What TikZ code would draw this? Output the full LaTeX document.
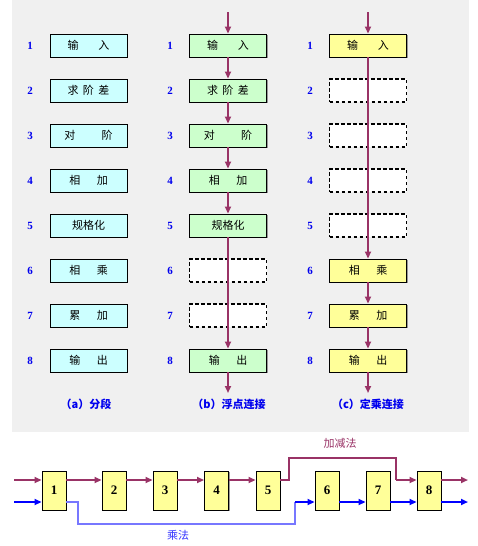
\documentclass[tikz,border=0pt]{standalone}
\usepackage{fontspec}
\setmainfont{Liberation Serif}
\newfontfamily\cjk{Noto Sans CJK SC}
\usetikzlibrary{arrows.meta,shadows}
\definecolor{mag}{HTML}{993366}
\definecolor{bggray}{HTML}{F0F0F0}
\definecolor{cyanfill}{HTML}{CCFFFF}
\definecolor{greenfill}{HTML}{CCFFCC}
\definecolor{yellowfill}{HTML}{FFFF99}
\definecolor{numblue}{HTML}{0000EE}
\definecolor{lightblue}{HTML}{7777FF}
\tikzset{
  stagebox/.style={draw=black, line width=0.9pt, minimum width=77pt, minimum height=23pt, inner sep=0pt,
    font=\cjk\fontsize{11}{11}\selectfont,
    drop shadow={shadow xshift=1.2pt, shadow yshift=-1.2pt, fill=black!40, opacity=1}},
  abox/.style={stagebox, fill=cyanfill},
  bbox/.style={stagebox, fill=greenfill},
  cbox/.style={stagebox, fill=yellowfill},
  dbox/.style={draw=black, line width=1.4pt, dash pattern=on 3.5pt off 2.5pt, fill=white,
    minimum width=77pt, minimum height=23pt, inner sep=0pt},
  num/.style={text=numblue, font=\bfseries\fontsize{11}{11}\selectfont},
  captext/.style={text=numblue, font=\cjk\bfseries\fontsize{11}{11}\selectfont},
  flow/.style={draw=mag, line width=2pt, -{Triangle[length=7pt,width=6pt]}},
  mthin/.style={draw=mag, line width=1.1pt},
  bthin/.style={draw=lightblue, line width=1.1pt},
  bflow/.style={draw=blue, line width=2pt, -{Triangle[length=7pt,width=6pt]}},
  pbox/.style={draw=black, line width=0.9pt, fill=yellowfill, minimum width=24pt, minimum height=39pt, inner sep=0pt,
    font=\bfseries\fontsize{13}{13}\selectfont,
    drop shadow={shadow xshift=1.2pt, shadow yshift=-1.2pt, fill=black!40, opacity=1}},
}
\begin{document}
\begin{tikzpicture}[x=1pt,y=-1pt]
\useasboundingbox (0,0) rectangle (478,546);
\fill[bggray] (12,0) rectangle (469,432);

% column (a)
\foreach \i/\t in {1/{输\hspace{1.8em}入},2/{求\hspace{0.4em}阶\hspace{0.4em}差},3/{对\hspace{2.4em}阶},4/{相\hspace{1.5em}加},5/{规格化},6/{相\hspace{1.5em}乘},7/{累\hspace{1.5em}加},8/{输\hspace{1.5em}出}}{
  \node[abox] (a\i) at (88.5,{45.5+45*(\i-1)}) {\t};
  \node[num] (na\i) at (30,{45.5+45*(\i-1)}) {\i};
}
% column (b)
\foreach \i/\t in {1/{输\hspace{1.8em}入},2/{求\hspace{0.4em}阶\hspace{0.4em}差},3/{对\hspace{2.4em}阶},4/{相\hspace{1.5em}加},5/{规格化},8/{输\hspace{1.5em}出}}{
  \node[bbox] (b\i) at (228,{45.5+45*(\i-1)}) {\t};
}
\foreach \i in {6,7}{
  \node[dbox] (b\i) at (228,{45.5+45*(\i-1)}) {};
}
\foreach \i in {1,...,8}{
  \node[num] (nb\i) at (170,{45.5+45*(\i-1)}) {\i};
  \node[num] (nc\i) at (310,{45.5+45*(\i-1)}) {\i};
}
% column (c)
\foreach \i/\t in {1/{输\hspace{1.8em}入},6/{相\hspace{1.5em}乘},7/{累\hspace{1.5em}加},8/{输\hspace{1.5em}出}}{
  \node[cbox] (c\i) at (368,{45.5+45*(\i-1)}) {\t};
}
\foreach \i in {2,3,4,5}{
  \node[dbox] (c\i) at (368,{45.5+45*(\i-1)}) {};
}

% arrows (b)
\coordinate (bt) at (228,12);
\coordinate (bb) at (228,393);
\draw[flow] (bt) -- (b1.north);
\draw[flow] (b1.south) -- (b2.north);
\draw[flow] (b2.south) -- (b3.north);
\draw[flow] (b3.south) -- (b4.north);
\draw[flow] (b4.south) -- (b5.north);
\draw[flow] (b5.south) -- (b8.north);
\draw[flow] (b8.south) -- (bb);
% arrows (c)
\coordinate (ct) at (368,12);
\coordinate (cb) at (368,393);
\draw[flow] (ct) -- (c1.north);
\draw[flow] (c1.south) -- (c6.north);
\draw[flow] (c6.south) -- (c7.north);
\draw[flow] (c7.south) -- (c8.north);
\draw[flow] (c8.south) -- (cb);

% captions
\node[captext] (capa) at (86,404) {（a）分段};
\node[captext] (capb) at (229,404) {（b）浮点连接};
\node[captext] (capc) at (368,404) {（c）定乘连接};

% bottom pipeline
\foreach \i/\x in {1/54,2/114,3/165,4/216.5,5/268,6/327,7/378,8/429}{
  \node[pbox] (p\i) at (\x,490.5) {\i};
}
\coordinate (mi) at (14,480);
\coordinate (mo) at (468,480);
\coordinate (bi) at (14,502);
\coordinate (bo) at (468,502);
\draw[flow] (mi) -- (p1.west |- mi);
\draw[flow] (p1.east |- mi) -- (p2.west |- mi);
\draw[flow] (p2.east |- mi) -- (p3.west |- mi);
\draw[flow] (p3.east |- mi) -- (p4.west |- mi);
\draw[flow] (p4.east |- mi) -- (p5.west |- mi);
\coordinate (mj) at (396,480);
\draw[mthin] (p5.east |- mi) -- (289,480) -- (289,458) -- (396,458) -- (mj);
\draw[flow] (mj) -- (p8.west |- mi);
\draw[flow] (p8.east |- mi) -- (mo);

\draw[bflow] (bi) -- (p1.west |- bi);
\coordinate (bj) at (295,502);
\draw[bthin] (p1.east |- bi) -- (78,502) -- (78,524) -- (295,524) -- (bj);
\draw[bflow] (bj) -- (p6.west |- bi);
\draw[bflow] (p6.east |- bi) -- (p7.west |- bi);
\draw[bflow] (p7.east |- bi) -- (p8.west |- bi);
\draw[bflow] (p8.east |- bi) -- (bo);

\node[text=mag, font=\cjk\fontsize{11}{11}\selectfont] (ljj) at (340,443) {加减法};
\node[text=blue!80, font=\cjk\fontsize{11}{11}\selectfont] (lcf) at (178,535) {乘法};
\end{tikzpicture}
\end{document}
